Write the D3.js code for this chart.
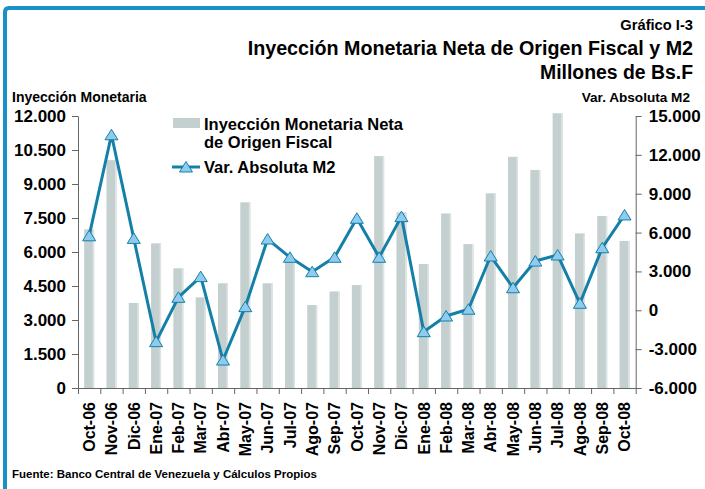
<!DOCTYPE html>
<html>
<head>
<meta charset="utf-8">
<script src="https://cdn.jsdelivr.net/npm/d3@7"></script>
<style>
  body { margin: 0; background: #fff; }
  svg { display: block; font-family: "Liberation Sans", Arial, sans-serif; font-weight: bold; }
</style>
</head>
<body>
<script>
const [width, height] = [705, 489];

const months = ['Oct-06', 'Nov-06', 'Dic-06', 'Ene-07', 'Feb-07', 'Mar-07', 'Abr-07', 'May-07',
  'Jun-07', 'Jul-07', 'Ago-07', 'Sep-07', 'Oct-07', 'Nov-07', 'Dic-07', 'Ene-08', 'Feb-08',
  'Mar-08', 'Abr-08', 'May-08', 'Jun-08', 'Jul-08', 'Ago-08', 'Sep-08', 'Oct-08'];
// Inyección Monetaria Neta de Origen Fiscal (left axis)
const inyeccion = [7000, 10050, 3750, 6380, 5280, 4000, 4620, 8190, 4620, 5570, 3660, 4260,
  4540, 10230, 7750, 5470, 7700, 6350, 8590, 10200, 9620, 12120, 6820, 7590, 6490];
// Var. Absoluta M2 (right axis)
const varM2 = [5750, 13550, 5550, -2420, 1000, 2600, -3840, 280, 5500, 4090, 2980, 4090,
  7100, 4090, 7230, -1650, -440, 80, 4190, 1740, 3800, 4270, 540, 4830, 7360];
const leftTicks = [0, 1500, 3000, 4500, 6000, 7500, 9000, 10500, 12000];
const rightTicks = [-6000, -3000, 0, 3000, 6000, 9000, 12000, 15000];

const data = months.map((m, i) => ({ m, bar: inyeccion[i], line: varM2[i] }));

const locale = d3.formatLocale({ decimal: ',', thousands: '.', grouping: [3], currency: ['', ''], minus: '-' });
const fmt = locale.format(',d');

const barColor = '#c4cfcf';
const lineColor = '#1480a8';
const blue = '#1a91c6';

const svg = d3.select('body').append('svg')
  .attr('width', width)
  .attr('height', height);

// frame
svg.append('path')
  .attr('d', `M5,${height} L5,12 Q5,8 9,8 L${width},8`)
  .attr('fill', 'none')
  .attr('stroke', blue)
  .attr('stroke-width', 4);

const [x0, x1, yTop, yBot] = [78, 635.7, 116, 388];

const x = d3.scaleBand().domain(months).range([x0, x1]).padding(0);
const xi = d3.scaleLinear().domain([0, months.length]).range([x0, x1]);
const yL = d3.scaleLinear().domain([0, 12000]).range([yBot, yTop]);
const yR = d3.scaleLinear().domain([-6000, 15000]).range([yBot, yTop]);

// titles
svg.append('text').attr('x', 693).attr('y', 30).attr('text-anchor', 'end')
  .style('font-size', '14.7px').text('Gráfico I-3');
svg.append('text').attr('x', 693).attr('y', 55).attr('text-anchor', 'end')
  .style('font-size', '19.7px').text('Inyección Monetaria Neta de Origen Fiscal y M2');
svg.append('text').attr('x', 693).attr('y', 79).attr('text-anchor', 'end')
  .style('font-size', '19.4px').text('Millones de Bs.F');
svg.append('text').attr('x', 12).attr('y', 102)
  .style('font-size', '14px').text('Inyección Monetaria');
svg.append('text').attr('x', 690).attr('y', 102).attr('text-anchor', 'end')
  .style('font-size', '13.6px').text('Var. Absoluta M2');
svg.append('text').attr('x', 12).attr('y', 478)
  .style('font-size', '11.5px').text('Fuente: Banco Central de Venezuela y Cálculos Propios');

// bars
const barW = 10;
const bars = svg.append('g').attr('class', 'bars');
bars.selectAll('rect.bar')
  .data(data)
  .join('rect')
  .attr('class', 'bar')
  .attr('x', d => x(d.m) + (x.bandwidth() - barW) / 2)
  .attr('width', barW)
  .attr('y', d => yL(d.bar))
  .attr('height', d => yL(0) - yL(d.bar))
  .attr('fill', barColor);
bars.selectAll('rect.edge')
  .data(data)
  .join('rect')
  .attr('class', 'edge')
  .attr('x', d => x(d.m) + (x.bandwidth() + barW) / 2 - 1.5)
  .attr('width', 1.5)
  .attr('y', d => yL(d.bar))
  .attr('height', d => yL(0) - yL(d.bar))
  .attr('fill', '#dde4e4');

// axes
const axisStyle = g => {
  g.selectAll('path.domain').attr('stroke', '#666');
  g.selectAll('.tick line').attr('stroke', '#666');
  g.selectAll('.tick text').attr('fill', '#000')
    .style('font-family', '"Liberation Sans", Arial, sans-serif')
    .style('font-weight', 'bold');
};

svg.append('g')
  .attr('transform', `translate(${x0},0)`)
  .call(d3.axisLeft(yL).tickValues(leftTicks).tickFormat(fmt).tickSize(6).tickPadding(6).tickSizeOuter(0))
  .call(axisStyle)
  .call(g => g.selectAll('.tick text').style('font-size', '17px'));

svg.append('g')
  .attr('transform', `translate(${x1},0)`)
  .call(d3.axisRight(yR).tickValues(rightTicks).tickFormat(fmt).tickSize(6).tickPadding(7).tickSizeOuter(0))
  .call(axisStyle)
  .call(g => g.selectAll('.tick text').style('font-size', '17px'));

svg.append('g')
  .attr('transform', `translate(0,${yBot})`)
  .call(d3.axisBottom(xi).tickValues(d3.range(months.length + 1)).tickFormat('').tickSize(6).tickSizeOuter(0))
  .call(axisStyle);

svg.append('g')
  .attr('transform', `translate(0,${yBot})`)
  .call(d3.axisBottom(x).tickSize(0).tickPadding(0))
  .call(g => g.select('path.domain').remove())
  .call(axisStyle)
  .call(g => g.selectAll('.tick text')
    .style('font-size', '16px')
    .attr('transform', 'rotate(-90)')
    .attr('text-anchor', 'end')
    .attr('x', -14)
    .attr('y', 0)
    .attr('dy', '0.36em'));

// line
const line = d3.line()
  .x(d => x(d.m) + x.bandwidth() / 2)
  .y(d => yR(d.line));

svg.append('path')
  .datum(data)
  .attr('d', line)
  .attr('fill', 'none')
  .attr('stroke', lineColor)
  .attr('stroke-width', 3)
  .attr('stroke-linejoin', 'round');

const tri = 'M0,-5.5 L6.5,5 L-6.5,5 Z';
svg.append('g').selectAll('path')
  .data(data)
  .join('path')
  .attr('d', tri)
  .attr('transform', d => `translate(${x(d.m) + x.bandwidth() / 2},${yR(d.line)})`)
  .attr('fill', '#8ecbef')
  .attr('stroke', lineColor)
  .attr('stroke-width', 1);

// legend
const legend = svg.append('g').style('font-size', '16.5px');
legend.append('rect')
  .attr('x', 173).attr('y', 118).attr('width', 27).attr('height', 10)
  .attr('fill', barColor);
legend.append('text').attr('x', 204).attr('y', 130).text('Inyección Monetaria Neta');
legend.append('text').attr('x', 204).attr('y', 148).text('de Origen Fiscal');
legend.append('line')
  .attr('x1', 172).attr('x2', 200).attr('y1', 167).attr('y2', 167)
  .attr('stroke', lineColor).attr('stroke-width', 3);
legend.append('path')
  .attr('d', tri)
  .attr('transform', 'translate(186,167)')
  .attr('fill', '#8ecbef')
  .attr('stroke', lineColor);
legend.append('text').attr('x', 204).attr('y', 173).text('Var. Absoluta M2');
</script>
</body>
</html>
